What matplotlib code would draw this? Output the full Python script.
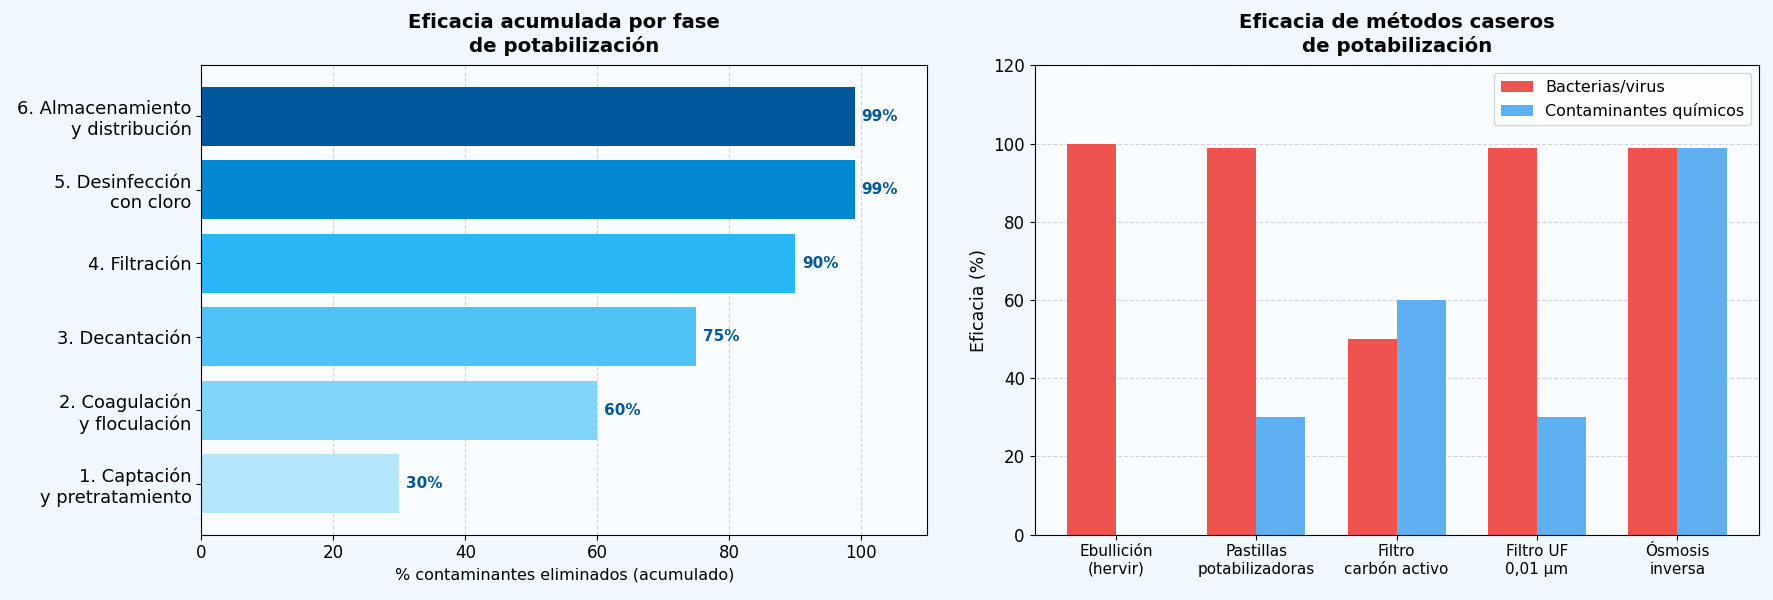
import numpy as np
import matplotlib
matplotlib.use("Agg")
import matplotlib.pyplot as plt

# Left chart: cumulative efficacy per stage
fases = ["1. Captación\ny pretratamiento", "2. Coagulación\ny floculación", "3. Decantación",
         "4. Filtración", "5. Desinfección\ncon cloro", "6. Almacenamiento\ny distribución"]
acumulado = [30, 60, 75, 90, 99, 99]
colores_fase = ["#b3e5fc", "#81d4fa", "#4fc3f7", "#29b6f6", "#0288d1", "#01579b"]

# Right chart: home methods
metodos = ["Ebullición\n(hervir)", "Pastillas\npotabilizadoras", "Filtro\ncarbón activo",
           "Filtro UF\n0,01 µm", "Ósmosis\ninversa"]
bacterias = [100, 99, 50, 99, 99]
quimicos = [0, 30, 60, 30, 99]

fig = plt.figure(figsize=(17.73, 6), dpi=100)
fig.patch.set_facecolor("#f2f8ff")
ax1 = fig.add_axes([0.1135, 0.109, 0.4095, 0.782])
ax2 = fig.add_axes([0.5835, 0.109, 0.4085, 0.782])

for ax in (ax1, ax2):
    ax.set_facecolor("#fafdff")
    ax.set_axisbelow(True)
    ax.tick_params(labelsize=12)

# left
y = np.arange(len(fases))
ax1.barh(y, acumulado, color=colores_fase, height=0.8)
for yi, v in zip(y, acumulado):
    ax1.text(v + 1, yi, f"{v}%", va="center", ha="left", fontsize=11,
             fontweight="bold", color="#01579b")
ax1.set_yticks(y)
ax1.set_yticklabels(fases, fontsize=12.9)
ax1.set_xlim(0, 110)
ax1.xaxis.grid(True, linestyle="--", color="#d0d0d0", alpha=0.9)
ax1.set_xlabel("% contaminantes eliminados (acumulado)", fontsize=11.5)
ax1.set_title("Eficacia acumulada por fase\nde potabilización", fontsize=14.2,
              fontweight="bold", pad=10)

# right
x = np.arange(len(metodos))
w = 0.35
ax2.bar(x - w / 2, bacterias, w, color="#ef5350", label="Bacterias/virus")
ax2.bar(x + w / 2, quimicos, w, color="#5eb0f3", label="Contaminantes químicos")
ax2.set_xticks(x)
ax2.set_xticklabels(metodos, fontsize=11)
ax2.set_ylim(0, 120)
ax2.set_xlim(-0.58, 4.58)
ax2.yaxis.grid(True, linestyle="--", color="#d0d0d0", alpha=0.9)
ax2.set_ylabel("Eficacia (%)", fontsize=12.5)
ax2.legend(loc="upper right", fontsize=11.5)
ax2.set_title("Eficacia de métodos caseros\nde potabilización", fontsize=14.2,
              fontweight="bold", pad=10)

fig.savefig("out.png", dpi=100, facecolor=fig.get_facecolor())
